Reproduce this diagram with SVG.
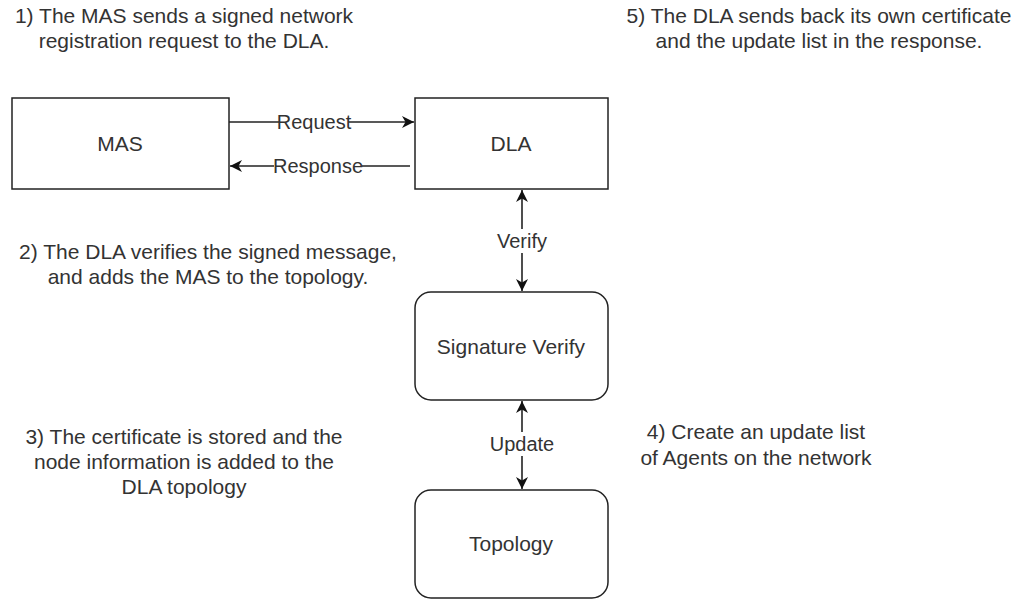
<svg xmlns="http://www.w3.org/2000/svg" width="1022" height="602" viewBox="0 0 1022 602">
  <style>
    .box { fill: #ffffff; stroke: #222222; stroke-width: 1.5; }
    .lbl { font-family: "Liberation Sans", Arial, sans-serif; font-size: 21px; fill: #333333; text-anchor: middle; dominant-baseline: central; }
    .note { font-family: "Liberation Sans", Arial, sans-serif; font-size: 21px; fill: #333333; text-anchor: middle; }
    .edge { fill: none; stroke: #222222; stroke-width: 1.6; }
    .elbl { font-family: "Liberation Sans", Arial, sans-serif; font-size: 20px; fill: #333333; text-anchor: middle; dominant-baseline: central; }
    .lblbg { fill: #ffffff; }
  </style>
  <defs>
    <marker id="arrow" markerUnits="userSpaceOnUse" markerWidth="13" markerHeight="12" refX="12" refY="6" orient="auto-start-reverse" viewBox="0 0 13 12">
      <path d="M0,0 L12,6 L0,12 L3.5,6 Z" fill="#111111"/>
    </marker>
  </defs>
  <rect width="1022" height="602" fill="#ffffff"/>

  <g id="notes">
    <text class="note" x="184" y="23">1) The MAS sends a signed network</text>
    <text class="note" x="184" y="48">registration request to the DLA.</text>
    <text class="note" x="819" y="23">5) The DLA sends back its own certificate</text>
    <text class="note" x="819" y="48">and the update list in the response.</text>
    <text class="note" x="208" y="259">2) The DLA verifies the signed message,</text>
    <text class="note" x="208" y="284">and adds the MAS to the topology.</text>
    <text class="note" x="184" y="444">3) The certificate is stored and the</text>
    <text class="note" x="184" y="469">node information is added to the</text>
    <text class="note" x="184" y="494">DLA topology</text>
    <text class="note" x="756" y="439">4) Create an update list</text>
    <text class="note" x="756" y="465">of Agents on the network</text>
  </g>

  <g id="node-mas">
    <rect class="box" x="12" y="98" width="217" height="91"/>
    <text class="lbl" x="120" y="143">MAS</text>
  </g>
  <g id="node-dla">
    <rect class="box" x="415" y="98" width="193" height="91"/>
    <text class="lbl" x="511" y="143">DLA</text>
  </g>
  <g id="node-sigverify">
    <rect class="box" x="415" y="292" width="193" height="108" rx="16" ry="16"/>
    <text class="lbl" x="511" y="346">Signature Verify</text>
  </g>
  <g id="node-topology">
    <rect class="box" x="415" y="490" width="193" height="108" rx="16" ry="16"/>
    <text class="lbl" x="511" y="543">Topology</text>
  </g>

  <g id="connectors">
    <line class="edge" x1="229" y1="122" x2="414" y2="122" marker-end="url(#arrow)"/>
    <rect class="lblbg" x="280" y="111" width="68" height="22"/>
    <text class="elbl" x="314" y="122">Request</text>

    <line class="edge" x1="410" y1="166" x2="230" y2="166" marker-end="url(#arrow)"/>
    <rect class="lblbg" x="274" y="155" width="88" height="22"/>
    <text class="elbl" x="318" y="166">Response</text>

    <line class="edge" x1="522" y1="190" x2="522" y2="291" marker-start="url(#arrow)" marker-end="url(#arrow)"/>
    <rect class="lblbg" x="497" y="229" width="50" height="24"/>
    <text class="elbl" x="522" y="241">Verify</text>

    <line class="edge" x1="522" y1="401" x2="522" y2="489" marker-start="url(#arrow)" marker-end="url(#arrow)"/>
    <rect class="lblbg" x="492" y="432" width="60" height="24"/>
    <text class="elbl" x="522" y="444">Update</text>
  </g>
</svg>
